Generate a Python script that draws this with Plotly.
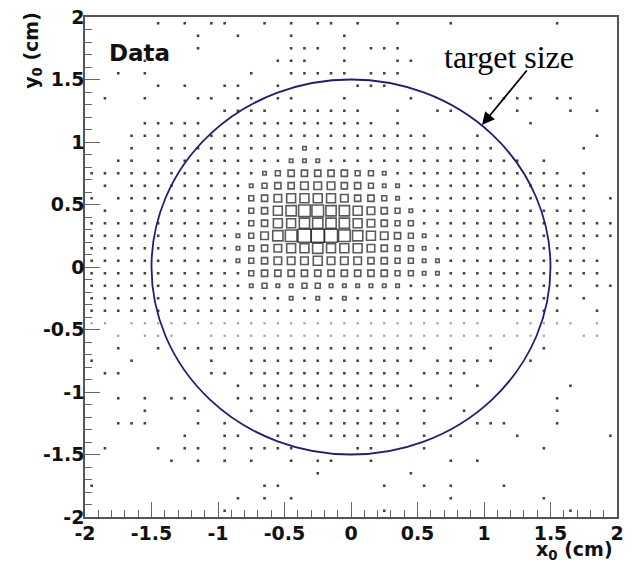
import plotly.graph_objects as go

# ---------------- data ----------------
# 40 x 40 bins of 0.1 cm from -2 to 2; rows listed from top (y=1.95) to bottom (y=-1.95)
# '.' = empty, 'f' = faint (very low) content, digits = relative box size level
X_EDGES_MIN = -2.0
BIN_W = 0.1
NBINS = 40
GRID_ROWS = [
    ".....1.1.1" "1..1.1.11." "1..1...1.." ".....1....",
    "........1." ".1...1...1" ".........." "..........",
    "........1." ".....111.1" ".111......" "..........",
    "....1....." "....111..1" "...11....." "..........",
    "..1.1....." "..1..11111" ".111......" "..........",
    ".....1.1.." "11..1....." "111......." "..........",
    ".1..1...11" ".11.11...1" "....1....." "1111.11...",
    ".........." "1111.11111" "1..1..11.." "..1...1.1.",
    "....11111." ".111111111" "11.1......" "...1......",
    "...111.111" "1111111111" "111111...1" "........1.",
    "...1.11111" "1111112111" "1111111111" "1......1..",
    "..11.11111" "1111122211" "1111111111" "111.1.....",
    "1111111111" "1112344444" "3321111111" "111111.1..",
    ".1.1111111" "1123445554" "4322111111" "11111111..",
    "1.11111111" "1134566665" "4432111111" "11111111.1",
    ".1.11.1111" "1134678877" "6543211111" "11111111..",
    "1111111111" "1134667777" "6543311111" "1111111111",
    "1111111111" "1235789998" "7654321111" "1111111111",
    "1111111111" "1234566766" "6543321111" "11111111..",
    "1111111111" "1234555655" "5443322111" "111111111.",
    "1111111111" "1134444444" "4443322111" "111111111.",
    "1111111111" "1123223322" "2222111111" "1111111.11",
    "1111111111" "1111121212" "1111111111" "111111.1..",
    "1111111111" "1111111111" "1111111111" "111111..1.",
    "ff.fffffff" "ffffffffff" "ffffffffff" "..fffff.f.",
    "..f.fff..f" "ffffffffff" "ffffffffff" "fffff..ff.",
    "..1..1.111" "1111111111" "111111.1.." "1...1.....",
    "1..1.....1" "..11111111" "11111.1111" "1..1......",
    ".11......1" "1.11111111" "1111.1111." "..........",
    ".........." ".1.1111111" "11111..1.1" "......1...",
    "..1.1.11.." ".111111111" "111.1111.." ".....1....",
    "....1...1." "..1.111.11" "1111.1..1." ".....1....",
    "..111...1." "1...111111" "1111.1...1" "11...1....",
    ".......1.." "11..111.11" "1111.1.1.." "..1......1",
    ".1...1.11." "1.1111...." "11...1...." "....1.....",
    "......1.1." "1.1..1.11." ".1.....1.1" "..........",
    ".........." ".......1.." "....1....." "..........",
    "1........." "...11....." "..1..1.1.." ".1........",
    ".........." ".1.1.1...." ".......1.." "....1.....",
    ".........." "1........." "..1......." "......1...",
]
TARGET_RADIUS = 1.5  # cm
TICK_VALS = [-2, -1.5, -1, -0.5, 0, 0.5, 1, 1.5, 2]
TICK_TEXT = ["-2", "-1.5", "-1", "-0.5", "0", "0.5", "1", "1.5", "2"]
ARROW_TIP = (0.985, 1.136)

# ---------------- build marks ----------------
x_centers = [X_EDGES_MIN + BIN_W * (i + 0.5) for i in range(NBINS)]
y_centers = [-X_EDGES_MIN - BIN_W * (j + 0.5) for j in range(NBINS)]


def level(ch):
    if ch == ".":
        return 0.0
    if ch == "f":
        return 0.5
    return float(ch)


faint_x, faint_y = [], []
dot_x, dot_y = [], []
box_x, box_y, box_s = [], [], []
for j, row in enumerate(GRID_ROWS):
    for i, ch in enumerate(row):
        v = level(ch)
        if v == 0:
            continue
        if v < 1:
            faint_x.append(x_centers[i]); faint_y.append(y_centers[j])
        elif v < 2:
            dot_x.append(x_centers[i]); dot_y.append(y_centers[j])
        else:
            box_x.append(x_centers[i]); box_y.append(y_centers[j]); box_s.append(1.35 * v + 0.8)

fig = go.Figure()
fig.add_trace(go.Scatter(x=faint_x, y=faint_y, mode="markers",
                         marker=dict(symbol="square", size=2.2, color="#a0a0a0", line=dict(width=0)),
                         hoverinfo="skip", showlegend=False))
fig.add_trace(go.Scatter(x=dot_x, y=dot_y, mode="markers",
                         marker=dict(symbol="square", size=2.6, color="#444444", line=dict(width=0)),
                         hoverinfo="skip", showlegend=False))
fig.add_trace(go.Scatter(x=box_x, y=box_y, mode="markers",
                         marker=dict(symbol="square-open", size=box_s, color="#151515",
                                     line=dict(width=1.6, color="#151515")),
                         hoverinfo="skip", showlegend=False))

fig.add_shape(type="circle", xref="x", yref="y",
              x0=-TARGET_RADIUS, x1=TARGET_RADIUS, y0=-TARGET_RADIUS, y1=TARGET_RADIUS,
              line=dict(color="#1f1f72", width=1.8))

axis_common = dict(
    range=[-2, 2], showgrid=False, zeroline=False, automargin=False,
    showline=True, linecolor="#555555", linewidth=1.5, mirror=True,
    ticks="inside", ticklen=15, tickwidth=1, tickcolor="#666666",
    tickvals=TICK_VALS, ticktext=TICK_TEXT, ticklabeloverflow="allow",
    tickfont=dict(family="DejaVu Sans", size=19, color="#111111", weight="bold"),
    minor=dict(ticks="inside", ticklen=7, tickwidth=1, tickcolor="#666666", dtick=0.1, showgrid=False),
)
fig.update_xaxes(**axis_common, ticklabelstandoff=-2)
fig.update_yaxes(**axis_common, ticklabelstandoff=-5)

bold = dict(family="DejaVu Sans", size=19, color="#111111", weight="bold")
fig.add_annotation(text="x<sub>0</sub> (cm)", xref="paper", yref="paper", x=0.996, y=-0.066,
                   xanchor="right", yanchor="middle", showarrow=False, font=bold)
fig.add_annotation(text="y<sub>0</sub> (cm)", xref="paper", yref="paper", x=-0.098, y=0.934,
                   xanchor="center", yanchor="middle", textangle=-90, showarrow=False, font=bold)
fig.add_annotation(text="Data", xref="paper", yref="paper", x=0.041, y=0.928,
                   xanchor="left", yanchor="middle", showarrow=False,
                   font=dict(family="DejaVu Sans", size=23, color="#111111", weight="bold"))
fig.add_annotation(text="target size", xref="paper", yref="paper", x=0.797, y=0.92,
                   xanchor="center", yanchor="middle", showarrow=False,
                   font=dict(family="Liberation Serif", size=32, color="#000000"))
fig.add_annotation(text="", x=ARROW_TIP[0], y=ARROW_TIP[1], xref="x", yref="y",
                   ax=46, ay=-56, showarrow=True, arrowhead=2, arrowsize=1.4,
                   arrowwidth=1.8, arrowcolor="#000000")

# the page body adds an 8 px offset, so the figure is 8 px smaller than the window
fig.update_layout(
    width=623, height=562,
    margin=dict(l=77, r=14, t=9, b=53, autoexpand=False),
    paper_bgcolor="white", plot_bgcolor="white",
    showlegend=False,
)

fig.write_html("out.html")
